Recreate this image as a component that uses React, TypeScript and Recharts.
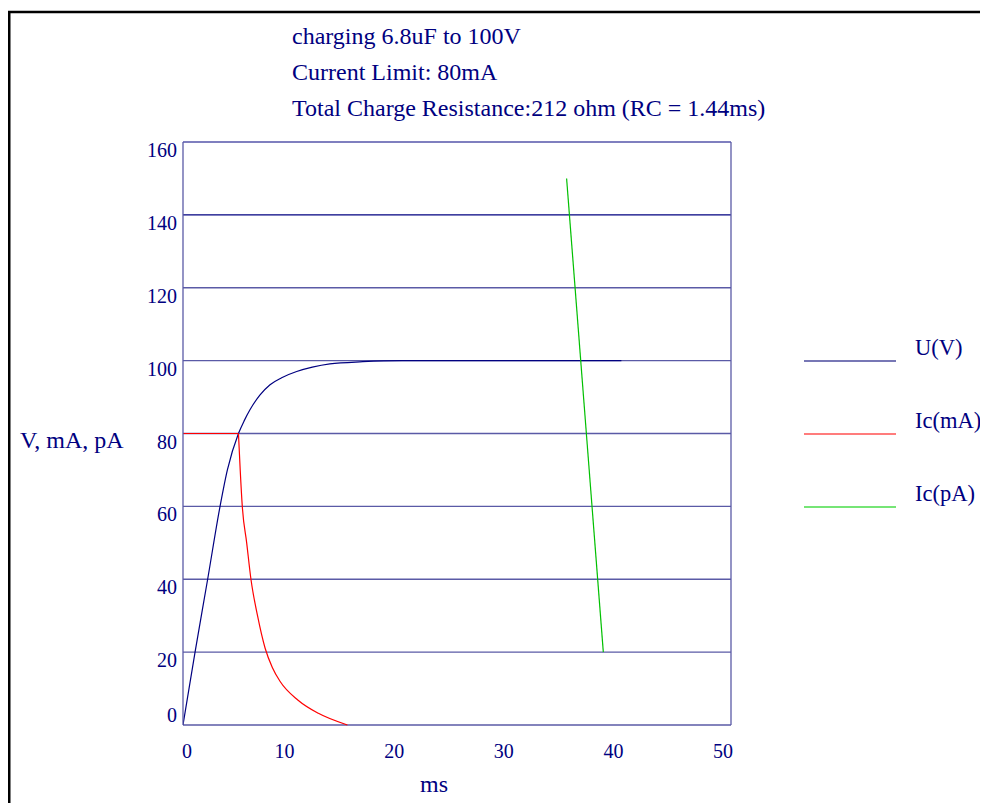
import { Line, LineChart, ReferenceLine, XAxis, YAxis } from "recharts";

const titleLines = [
  "charging 6.8uF to 100V",
  "Current Limit: 80mA",
  "Total Charge Resistance:212 ohm (RC = 1.44ms)",
];

const xTicks = [0, 10, 20, 30, 40, 50];
const yTicks = [0, 20, 40, 60, 80, 100, 120, 140, 160];

// U(V)
const uTime = [0, 1.1, 2.25, 3.38, 4.05, 5.06, 5.6, 6.11, 7.03, 7.94, 9.0, 10.37, 11.8, 13.4, 16.4, 20, 40];
const uValue = [0, 20, 40, 60, 70, 80, 83.6, 86.5, 90.6, 93.4, 95.3, 97, 98.2, 99.1, 99.7, 100, 100];

// Ic(mA): flat limit then decay
const iLimitTime = [0, 5.06];
const iLimitValue = [80, 80];
const iDecayTime = [5.06, 5.22, 5.41, 5.81, 6.2, 6.8, 7.5, 8.15, 8.85, 10.5, 12.35, 15];
const iDecayValue = [80, 70, 60, 50, 40, 30, 21, 15.8, 12, 6.8, 3.2, 0];

// Ic(pA)
const pTime = [35, 38.35];
const pValue = [150, 20];

const legendItems = [
  { name: "U(V)", color: "#4a4a9c" },
  { name: "Ic(mA)", color: "#ff5050" },
  { name: "Ic(pA)", color: "#48dd48" },
];

const toPoints = (ts: number[], vs: number[]) => ts.map((t, i) => ({ t, v: vs[i] }));

const uData = toPoints(uTime, uValue);
const iLimitData = toPoints(iLimitTime, iLimitValue);
const iDecayData = toPoints(iDecayTime, iDecayValue);
const pData = toPoints(pTime, pValue);

const W = 980;
const H = 795;
const FONT = "'Liberation Serif', 'Times New Roman', serif";
const NAVY = "#000080";
const GRID = "#5a5aa6";

const YTick = (props: any) => {
  const { y, payload } = props;
  const dy = payload.value === 0 ? -3 : 15;
  return (
    <text x={169} y={y + dy} textAnchor="end" fontFamily={FONT} fontSize={20} fill={NAVY}>
      {payload.value}
    </text>
  );
};

const XTick = (props: any) => {
  const { x, payload } = props;
  const dx = payload.value === 0 ? 4 : -8;
  return (
    <text x={x + dx} y={750} textAnchor="middle" fontFamily={FONT} fontSize={20} fill={NAVY}>
      {payload.value}
    </text>
  );
};

export default function App() {
  return (
    <div style={{ position: "relative", width: W, height: H }}>
      <LineChart
        width={W}
        height={H}
        margin={{ top: 134, right: 257, bottom: 0, left: 0 }}
      >
        <XAxis
          type="number"
          dataKey="t"
          domain={[0, 50]}
          ticks={xTicks}
          height={78}
          axisLine={false}
          tickLine={false}
          tick={<XTick />}
          allowDataOverflow
        />
        <YAxis
          type="number"
          domain={[0, 160]}
          ticks={yTicks}
          width={175}
          axisLine={{ stroke: GRID, strokeWidth: 1.3 }}
          tickLine={false}
          tick={<YTick />}
        />
        {yTicks.map((v) => (
          <ReferenceLine
            key={v}
            y={v}
            stroke={v >= 140 ? NAVY : GRID}
            strokeWidth={v >= 140 ? 1.1 : 1.3}
          />
        ))}
        <ReferenceLine x={50} stroke={GRID} strokeWidth={1.3} />
        <Line
          data={uData}
          dataKey="v"
          type="monotone"
          stroke={NAVY}
          strokeWidth={1.2}
          dot={false}
          isAnimationActive={false}
        />
        <Line
          data={iLimitData}
          dataKey="v"
          type="linear"
          stroke="#ff0000"
          strokeWidth={1.2}
          dot={false}
          isAnimationActive={false}
        />
        <Line
          data={iDecayData}
          dataKey="v"
          type="monotone"
          stroke="#ff0000"
          strokeWidth={1.2}
          dot={false}
          isAnimationActive={false}
        />
        <Line
          data={pData}
          dataKey="v"
          type="linear"
          stroke="#00c000"
          strokeWidth={1.2}
          dot={false}
          isAnimationActive={false}
        />
      </LineChart>
      <svg
        width={W}
        height={H}
        style={{ position: "absolute", left: 0, top: 0, pointerEvents: "none" }}
      >
        <path d={`M1.25,${H} L1.25,4 L${W},4`} fill="none" stroke="#000" strokeWidth={2.5} />
        {titleLines.map((line, i) => (
          <text key={line} x={284} y={36 + i * 36} fontFamily={FONT} fontSize={24} fill={NAVY}>
            {line}
          </text>
        ))}
        <text x={12} y={440} fontFamily={FONT} fontSize={24} fill={NAVY}>
          V, mA, pA
        </text>
        <text x={412} y={784} fontFamily={FONT} fontSize={24} fill={NAVY}>
          ms
        </text>
        {legendItems.map((item, i) => (
          <g key={item.name}>
            <line x1={796} x2={888} y1={353 + i * 73} y2={353 + i * 73} stroke={item.color} strokeWidth={1.5} />
            <text x={907} y={347 + i * 73} fontFamily={FONT} fontSize={22.5} fill={NAVY}>
              {item.name}
            </text>
          </g>
        ))}
      </svg>
    </div>
  );
}
